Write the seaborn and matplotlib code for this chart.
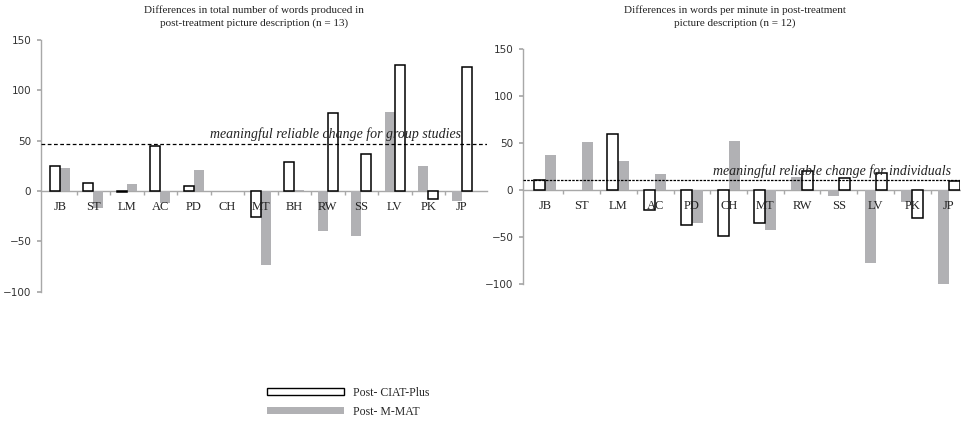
import matplotlib
matplotlib.use("Agg")
import matplotlib.pyplot as plt
import matplotlib.patches as mpatches
import seaborn as sns
import pandas as pd
import numpy as np

# ---------------- data ----------------
cats_words = ["JB", "ST", "LM", "AC", "PD", "CH", "MT", "BH", "RW", "SS", "LV", "PK", "JP"]
ciat_words = [25, 8, -1, 45, 5, 0, -26, 29, 77, 37, 125, -8, 123]
mmat_words = [23, -17, 7, -12, 21, 0, -73, 1, -40, -45, 78, 25, -10]
ciat_first_words = [True] * 8 + [False] * 5

cats_wpm = ["JB", "ST", "LM", "AC", "PD", "CH", "MT", "RW", "SS", "LV", "PK", "JP"]
ciat_wpm = [11, 0, 60, -21, -37, -49, -35, 20, 13, 18, -30, 10]
mmat_wpm = [38, 51, 31, 17, -35, 52, -42, 14, -6, -77, -12, -101]
ciat_first_wpm = [True] * 7 + [False] * 5

series_names = ["Post- CIAT-Plus", "Post- M-MAT"]
group_threshold = 47
indiv_threshold = 10.5
yticks = [-100, -50, 0, 50, 100, 150]

GRAY = "#b1b1b4"
SERIF = ["Liberation Serif", "DejaVu Serif"]
SANS = ["DejaVu Sans"]

sns.set_theme(style="white")
plt.rcParams["font.family"] = SANS

fig = plt.figure(figsize=(9.62, 4.23), dpi=100)
W, H = 962.0, 423.0


def panel(rect, cats, ciat, mmat, ciat_first, xlim, thr, thr_ls, thr_text, text_x):
    ax = fig.add_axes(rect)
    df = pd.DataFrame({
        "cat": cats * 2,
        "value": list(ciat) + list(mmat),
        "series": [series_names[0]] * len(cats) + [series_names[1]] * len(cats),
    })
    sns.barplot(data=df, x="cat", y="value", hue="series", order=cats,
                hue_order=series_names, palette={series_names[0]: "white", series_names[1]: GRAY},
                width=0.6, dodge=True, legend=False, ax=ax, saturation=1, errorbar=None)
    c0, c1 = ax.containers[0], ax.containers[1]
    for i, (p0, p1) in enumerate(zip(c0, c1)):
        p0.set_edgecolor("black")
        p0.set_linewidth(1.1 if p0.get_height() != 0 else 0)
        p1.set_edgecolor("none")
        p1.set_linewidth(0)
        p0.set_zorder(2.2)
        p1.set_zorder(2.1)
        if not ciat_first[i]:
            x0 = p0.get_x()
            p0.set_x(p1.get_x())
            p1.set_x(x0)
    ax.set_xlim(*xlim)
    ax.set_ylim(-100, 150)
    ax.set_yticks(yticks)
    ax.set_yticklabels(["\u2212100", "\u221250", "0", "50", "100", "150"])
    ax.set_xlabel("")
    ax.set_ylabel("")
    for s in ["top", "right"]:
        ax.spines[s].set_visible(False)
    ax.spines["left"].set_color("#a8a8a8")
    ax.spines["left"].set_linewidth(1.0)
    ax.spines["bottom"].set_position(("data", 0))
    ax.spines["bottom"].set_color("#a8a8a8")
    ax.spines["bottom"].set_linewidth(1.0)
    ax.spines["bottom"].set_zorder(1)
    ax.tick_params(axis="y", left=True, length=3, color="#a8a8a8", labelsize=7.5,
                   labelcolor="#333333", pad=4)
    ax.tick_params(axis="x", bottom=False, labelsize=9, pad=1, labelcolor="#222222")
    ax.set_xticks(range(len(cats)))
    ax.set_xticklabels(cats, fontfamily=SERIF)
    ax.set_xticks(np.arange(len(cats) - 1) + 0.5, minor=True)
    ax.tick_params(axis="x", which="minor", bottom=True, length=3, color="#a8a8a8", direction="out")
    ax.xaxis.set_zorder(6)
    ax.axhline(thr, color="black", ls=thr_ls, lw=0.9, zorder=4)
    ax.text(text_x, thr + 2.5, thr_text, ha="right", va="bottom", fontsize=10,
            style="italic", family=SERIF, color="#222222", zorder=5)
    ax.patch.set_alpha(0)
    return ax


ax1 = panel([41 / W, 1 - 291.7 / H, (487 - 41) / W, (291.7 - 40) / H],
            cats_words, ciat_words, mmat_words, ciat_first_words,
            (-0.56, 12.75), group_threshold, (0, (3, 2)),
            "meaningful reliable change for group studies", 11.98)
ax2 = panel([523 / W, 1 - 284.3 / H, (960 - 523) / W, (284.3 - 49.3) / H],
            cats_wpm, ciat_wpm, mmat_wpm, ciat_first_wpm,
            (-0.6, 11.3), indiv_threshold, (0, (2, 1)),
            "meaningful reliable change for individuals", 11.05)

fig.text(254 / W, 1 - 5 / H,
         "Differences in total number of words produced in\npost-treatment picture description (n = 13)",
         ha="center", va="top", fontsize=8, family=SERIF, color="#222222", linespacing=1.55)
fig.text(735 / W, 1 - 5 / H,
         "Differences in words per minute in post-treatment\npicture description (n = 12)",
         ha="center", va="top", fontsize=8, family=SERIF, color="#222222", linespacing=1.55)

handles = [mpatches.Patch(facecolor="white", edgecolor="black", linewidth=1.0, label=series_names[0]),
           mpatches.Patch(facecolor=GRAY, edgecolor="none", label=series_names[1])]
leg = fig.legend(handles=handles, loc="upper left", bbox_to_anchor=(261 / W, 1 - 381 / H),
                 frameon=False, prop={"family": SERIF, "size": 8.5}, handlelength=6.5,
                 handleheight=0.55, labelspacing=0.6, handletextpad=0.8, borderpad=0)

fig.savefig("out.png", dpi=100)
